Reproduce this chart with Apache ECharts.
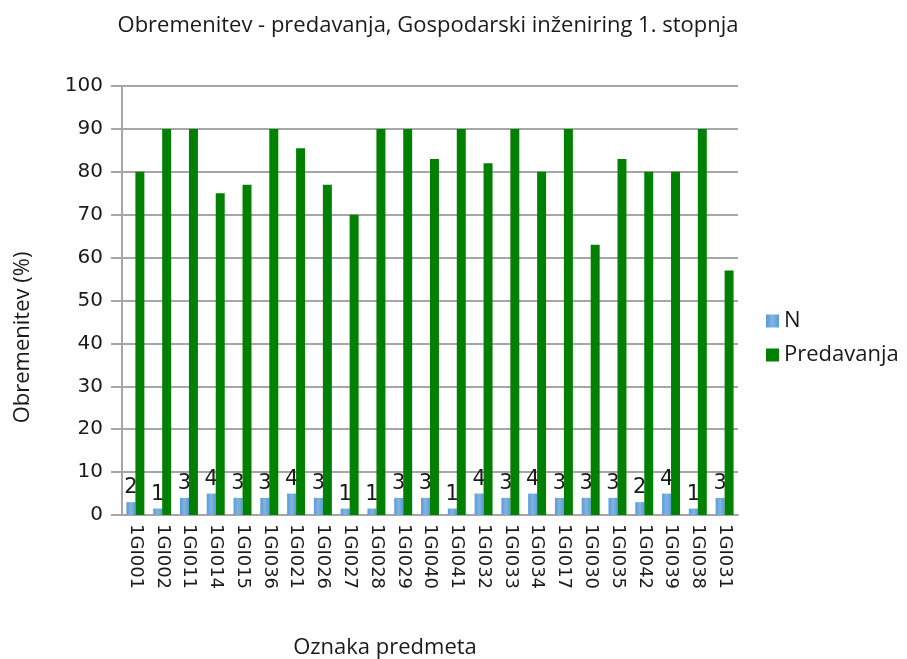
<!DOCTYPE html>
<html>
<head>
<meta charset="utf-8">
<script src="https://cdn.jsdelivr.net/npm/echarts@6/dist/echarts.min.js"></script>
<style>
  html, body { margin: 0; padding: 0; background: #fff; }
  #chart { width: 907px; height: 659px; }
</style>
</head>
<body>
<div id="chart"></div>
<script>
// categories and values
const categories = [
  "1GI001", "1GI002", "1GI011", "1GI014", "1GI015", "1GI036", "1GI021", "1GI026",
  "1GI027", "1GI028", "1GI029", "1GI040", "1GI041", "1GI032", "1GI033", "1GI034",
  "1GI017", "1GI030", "1GI035", "1GI042", "1GI039", "1GI038", "1GI031",
];
// N: bar height as drawn and the count printed above it
const nHeights = [3, 1.5, 4, 5, 4, 4, 5, 4, 1.5, 1.5, 4, 4, 1.5, 5, 4, 5, 4, 4, 4, 3, 5, 1.5, 4];
const nLabels = [2, 1, 3, 4, 3, 3, 4, 3, 1, 1, 3, 3, 1, 4, 3, 4, 3, 3, 3, 2, 4, 1, 3];
const predavanja = [80, 90, 90, 75, 77, 90, 85.5, 77, 70, 90, 90, 83, 90, 82, 90, 80, 90, 63, 83, 80, 80, 90, 57];
const yTicks = { min: 0, max: 100, interval: 10 };

const chart = echarts.init(document.getElementById("chart"), null, { renderer: "canvas" });

const axisFont = "DejaVu Sans, Verdana, sans-serif";
const uiFont = "Open Sans, Noto Sans, sans-serif";
const textColor = "#1a1a1a";
const lineColor = "#a6a6a6";

chart.setOption({
  animation: false,
  backgroundColor: "#fff",
  title: {
    text: "Obremenitev - predavanja, Gospodarski inženiring 1. stopnja",
    left: 423,
    textAlign: "center",
    top: 10,
    textStyle: { fontFamily: uiFont, fontSize: 22, fontWeight: "normal", color: textColor },
  },
  legend: {
    orient: "vertical",
    left: 761,
    top: 305,
    itemWidth: 13,
    itemHeight: 13,
    itemGap: 12,
    icon: "rect",
    textStyle: { fontFamily: uiFont, fontSize: 22, color: textColor },
    data: ["N", "Predavanja"],
  },
  grid: { left: 122, right: 169, top: 86, bottom: 144, outerBoundsMode: "none", containLabel: false },
  xAxis: {
    type: "category",
    data: categories,
    name: "Oznaka predmeta",
    nameLocation: "middle",
    nameGap: 122,
    nameTextStyle: { fontFamily: uiFont, fontSize: 22, color: textColor, padding: [0, 90, 0, 0] },
    axisLine: { lineStyle: { color: lineColor, width: 2 } },
    axisTick: { show: false },
    axisLabel: {
      rotate: -90,
      interval: 0,
      margin: 9,
      fontFamily: axisFont,
      fontSize: 18,
      color: textColor,
    },
  },
  yAxis: {
    type: "value",
    min: yTicks.min,
    max: yTicks.max,
    interval: yTicks.interval,
    name: "Obremenitev (%)",
    nameLocation: "middle",
    nameGap: 88,
    nameTextStyle: { fontFamily: uiFont, fontSize: 22, color: textColor, padding: [0, 74, 0, 0] },
    axisLine: { show: true, lineStyle: { color: lineColor, width: 2 } },
    axisTick: { show: true, inside: false, length: 11, lineStyle: { color: lineColor, width: 2 } },
    axisLabel: { fontFamily: axisFont, fontSize: 20, color: textColor, margin: 19 },
    splitLine: { lineStyle: { color: lineColor, width: 2 } },
  },
  series: [
    {
      name: "N",
      type: "bar",
      data: nHeights,
      barGap: "0%",
      barCategoryGap: "33%",
      itemStyle: {
        color: new echarts.graphic.LinearGradient(0, 0, 1, 0, [
          { offset: 0, color: "#5b9bd5" },
          { offset: 0.5, color: "#80b4e4" },
          { offset: 1, color: "#5b9bd5" },
        ]),
      },
      label: {
        show: true,
        position: "top",
        distance: 4,
        fontFamily: axisFont,
        fontSize: 21,
        color: textColor,
        formatter: (p) => String(nLabels[p.dataIndex]),
      },
    },
    {
      name: "Predavanja",
      type: "bar",
      data: predavanja,
      barGap: "0%",
      barCategoryGap: "33%",
      itemStyle: { color: "#008000" },
      z: 3,
    },
  ],
});
</script>
</body>
</html>
